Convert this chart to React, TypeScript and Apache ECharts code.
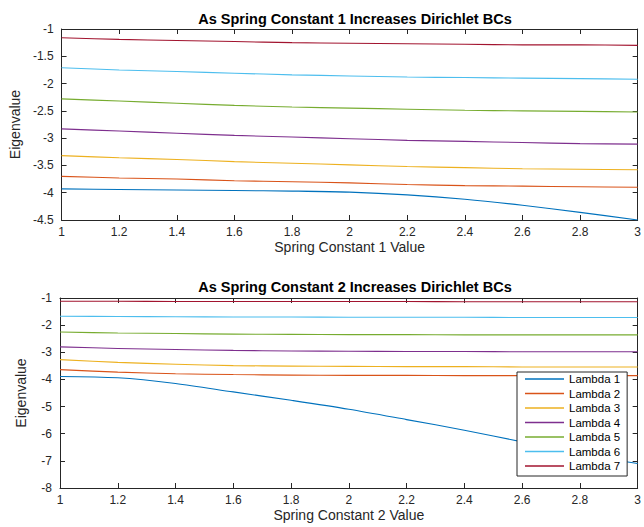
import React, { useEffect, useRef } from "react";
import * as echarts from "echarts";

const xValues = [1, 1.2, 1.4, 1.6, 1.8, 2, 2.2, 2.4, 2.6, 2.8, 3];
const seriesNames = ["Lambda 1", "Lambda 2", "Lambda 3", "Lambda 4", "Lambda 5", "Lambda 6", "Lambda 7"];
const colors = ["#0072BD", "#D95319", "#EDB120", "#7E2F8E", "#77AC30", "#4DBEEE", "#A2142F"];

// Plot 1: Spring Constant 1
const top1 = [-3.93, -3.94, -3.95, -3.96, -3.97, -3.99, -4.04, -4.12, -4.23, -4.36, -4.5];
const top2 = [-3.7, -3.73, -3.75, -3.78, -3.8, -3.82, -3.85, -3.87, -3.88, -3.89, -3.9];
const top3 = [-3.32, -3.36, -3.39, -3.43, -3.46, -3.49, -3.52, -3.54, -3.56, -3.57, -3.58];
const top4 = [-2.83, -2.87, -2.91, -2.95, -2.98, -3.01, -3.04, -3.06, -3.08, -3.1, -3.11];
const top5 = [-2.28, -2.32, -2.36, -2.4, -2.43, -2.45, -2.47, -2.49, -2.5, -2.51, -2.52];
const top6 = [-1.71, -1.75, -1.78, -1.81, -1.84, -1.86, -1.88, -1.89, -1.9, -1.91, -1.92];
const top7 = [-1.16, -1.19, -1.21, -1.23, -1.25, -1.26, -1.27, -1.28, -1.29, -1.29, -1.3];

// Plot 2: Spring Constant 2
const bot1 = [-3.89, -3.94, -4.15, -4.46, -4.77, -5.1, -5.48, -5.87, -6.3, -6.75, -7.1];
const bot2 = [-3.64, -3.73, -3.79, -3.82, -3.84, -3.85, -3.85, -3.86, -3.86, -3.86, -3.86];
const bot3 = [-3.27, -3.37, -3.44, -3.49, -3.51, -3.52, -3.53, -3.53, -3.54, -3.54, -3.54];
const bot4 = [-2.8, -2.86, -2.9, -2.93, -2.95, -2.96, -2.97, -2.97, -2.98, -2.98, -2.98];
const bot5 = [-2.25, -2.29, -2.31, -2.33, -2.34, -2.35, -2.35, -2.36, -2.36, -2.36, -2.36];
const bot6 = [-1.67, -1.68, -1.69, -1.7, -1.7, -1.71, -1.71, -1.71, -1.72, -1.72, -1.72];
const bot7 = [-1.12, -1.12, -1.13, -1.13, -1.13, -1.13, -1.13, -1.14, -1.14, -1.14, -1.14];

const topData = [top1, top2, top3, top4, top5, top6, top7];
const botData = [bot1, bot2, bot3, bot4, bot5, bot6, bot7];

const titles = ["As Spring Constant 1 Increases Dirichlet BCs", "As Spring Constant 2 Increases Dirichlet BCs"];
const xNames = ["Spring Constant 1 Value", "Spring Constant 2 Value"];
const yName = "Eigenvalue";

const FONT = "Liberation Sans, Arial, Helvetica, sans-serif";
const AXC = "#262626";

export default function App() {
  const ref = useRef<HTMLDivElement>(null);
  useEffect(() => {
    if (!ref.current) return;
    const chart = echarts.init(ref.current, null, { renderer: "svg" });
    const axisLine = { show: true, onZero: false, lineStyle: { color: AXC, width: 1 } };
    const tick = { show: true, inside: true, length: 5, lineStyle: { color: AXC } };
    const lbl = { color: AXC, fontSize: 12, fontFamily: FONT };
    const xBase = (g: number) => ({
      type: "value",
      gridIndex: g,
      min: 1,
      max: 3,
      interval: 0.2,
      splitLine: { show: false },
      axisLine,
      axisTick: tick,
    });
    const yRanges = [
      { min: -4.5, max: -1, interval: 0.5 },
      { min: -8, max: -1, interval: 1 },
    ];
    const xAxis: any[] = [];
    const yAxis: any[] = [];
    [0, 1].forEach((g) => {
      xAxis.push({
        ...xBase(g),
        position: "bottom",
        name: xNames[g],
        nameLocation: "middle",
        nameGap: 20,
        nameTextStyle: { color: AXC, fontSize: 14, fontFamily: FONT },
        axisLabel: { ...lbl, margin: 6, showMaxLabel: true, formatter: (v: number) => String(Math.round(v * 10) / 10) },
      });
    });
    [0, 1].forEach((g) => {
      xAxis.push({ ...xBase(g), position: "top", axisLabel: { show: false } });
    });
    [0, 1].forEach((g) => {
      yAxis.push({
        type: "value",
        gridIndex: g,
        ...yRanges[g],
        position: "left",
        splitLine: { show: false },
        axisLine,
        axisTick: tick,
        name: yName,
        nameLocation: "middle",
        nameGap: 32,
        nameTextStyle: { color: AXC, fontSize: 14, fontFamily: FONT },
        axisLabel: { ...lbl, margin: 8 },
      });
    });
    [0, 1].forEach((g) => {
      yAxis.push({
        type: "value",
        gridIndex: g,
        ...yRanges[g],
        position: "right",
        splitLine: { show: false },
        axisLine,
        axisTick: tick,
        axisLabel: { show: false },
      });
    });
    const series: any[] = [];
    [topData, botData].forEach((set, g) => {
      set.forEach((vals, i) => {
        series.push({
          type: "line",
          name: seriesNames[i],
          xAxisIndex: g,
          yAxisIndex: g,
          data: xValues.map((x, k) => [x, vals[k]]),
          symbol: "none",
          smooth: 0.3,
          lineStyle: { color: colors[i], width: 1.1 },
          itemStyle: { color: colors[i] },
          z: 2 + i,
        });
      });
    });
    chart.setOption({
      animation: false,
      backgroundColor: "#fff",
      title: [
        { text: titles[0], left: 350, top: 6, textAlign: "center", textStyle: { fontSize: 14.5, fontWeight: "bold", color: "#000", fontFamily: FONT } },
        { text: titles[1], left: 350, top: 274, textAlign: "center", textStyle: { fontSize: 14.5, fontWeight: "bold", color: "#000", fontFamily: FONT } },
      ],
      grid: [
        { left: 60, top: 29, width: 579, height: 191 },
        { left: 60, top: 298, width: 579, height: 190 },
      ],
      xAxis,
      yAxis,
      legend: {
        data: seriesNames.map((n) => ({ name: n, icon: "rect" })),
        orient: "vertical",
        left: 517,
        top: 372,
        itemWidth: 39,
        itemHeight: 1.3,
        itemGap: 2.5,
        padding: [1, 7, 4, 8],
        borderColor: "#262626",
        borderWidth: 1,
        backgroundColor: "#fff",
        textStyle: { fontSize: 11.5, color: "#000", fontFamily: FONT, lineHeight: 12 },
        z: 20,
      },
      series,
    });
    return () => chart.dispose();
  }, []);
  return <div ref={ref} style={{ position: "fixed", left: 0, top: 0, width: 644, height: 527 }} />;
}
